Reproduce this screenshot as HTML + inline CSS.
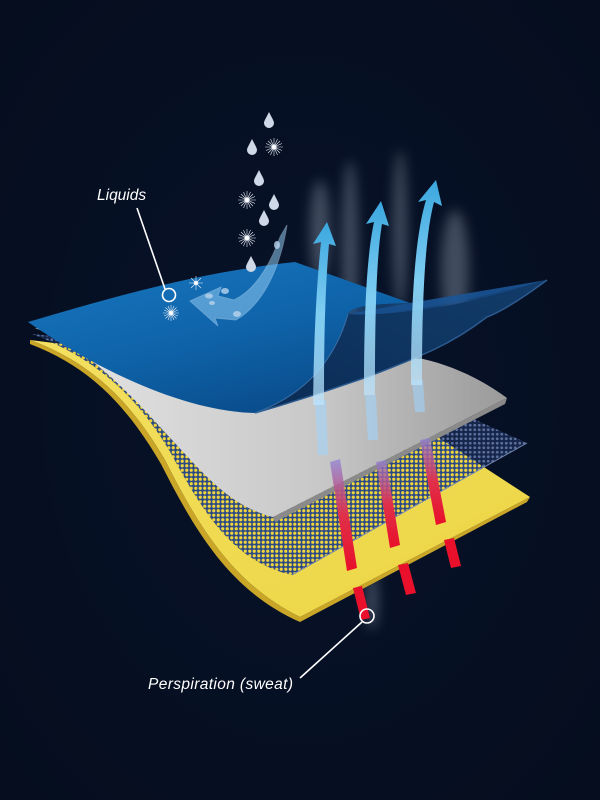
<!DOCTYPE html>
<html><head><meta charset="utf-8"><style>
html,body{margin:0;padding:0;background:#050e20;}
svg{display:block}
</style></head><body>
<svg width="600" height="800" viewBox="0 0 600 800" xmlns="http://www.w3.org/2000/svg">
<defs>
<radialGradient id="bg" cx="0.5" cy="0.5" r="0.7"><stop offset="0" stop-color="#08132a"/><stop offset="1" stop-color="#050d1e"/></radialGradient>
<linearGradient id="yel" x1="0" y1="0" x2="1" y2="1"><stop offset="0" stop-color="#f4e060"/><stop offset="1" stop-color="#ecd544"/></linearGradient>
<linearGradient id="gray" x1="0" y1="0" x2="1" y2="0"><stop offset="0" stop-color="#e6e6e6"/><stop offset="0.6" stop-color="#c8c8c8"/><stop offset="1" stop-color="#9a9a9a"/></linearGradient>
<linearGradient id="blue" x1="0" y1="0" x2="0.6" y2="1"><stop offset="0" stop-color="#1a78c0"/><stop offset="0.6" stop-color="#0e62a8"/><stop offset="1" stop-color="#0a4d8c"/></linearGradient>
<linearGradient id="curl" x1="0" y1="1" x2="1" y2="0"><stop offset="0" stop-color="#0a2c55"/><stop offset="1" stop-color="#133c6a"/></linearGradient>
<linearGradient id="arr" x1="0" y1="1" x2="0" y2="0"><stop offset="0" stop-color="#bfe6ff" stop-opacity="0.7"/><stop offset="0.5" stop-color="#7fcdf2"/><stop offset="1" stop-color="#3ba7df"/></linearGradient>
<linearGradient id="red" x1="0" y1="0" x2="0" y2="1"><stop offset="0" stop-color="#8c7fd8" stop-opacity="0.7"/><stop offset="0.5" stop-color="#e0304a"/><stop offset="1" stop-color="#e8102a"/></linearGradient>
<pattern id="dotY" width="4.5" height="4.5" patternUnits="userSpaceOnUse"><rect width="4.5" height="4.5" fill="#2c4a86"/><circle cx="2.25" cy="2.25" r="1.6" fill="#efd43c"/></pattern>
<pattern id="dotB" width="4.5" height="4.5" patternUnits="userSpaceOnUse"><rect width="4.5" height="4.5" fill="#16264a"/><circle cx="2.25" cy="2.25" r="1.4" fill="#5a6f9c"/></pattern>
<clipPath id="yclip"><path d="M30,340 C90,362 130,400 165,460 C200,530 235,585 300,617 L530,497 L350,380 Z"/></clipPath>
<filter id="blur" x="-50%" y="-50%" width="200%" height="200%"><feGaussianBlur stdDeviation="6"/></filter>
</defs>
<rect width="600" height="800" fill="url(#bg)"/>

<g filter="url(#blur)" fill="#c8d4e4" opacity="0.3">
<ellipse cx="350" cy="250" rx="8" ry="90"/>
<ellipse cx="400" cy="230" rx="7" ry="80"/>
<ellipse cx="455" cy="270" rx="14" ry="60"/>
<ellipse cx="320" cy="230" rx="10" ry="50"/>
<ellipse cx="372" cy="600" rx="6" ry="30"/>
</g>

<path d="M30,340 C90,362 130,400 165,460 C200,530 235,585 300,617 L530,497 L350,380 Z" fill="url(#yel)"/>
<path d="M30,340 C90,362 130,400 165,460 C200,530 235,585 300,617 L530,497 L527,502 L300,622 C232,592 197,535 161,464 C126,404 88,366 30,344 Z" fill="#c9a628"/>

<path d="M32,334 C95,358 137,395 172,455 C207,520 237,562 292,575 L527,443 L360,368 Z" fill="url(#dotB)"/>
<path d="M32,334 C95,358 137,395 172,455 C207,520 237,562 292,575 L527,443 L360,368 Z" fill="url(#dotY)" clip-path="url(#yclip)"/>
<path d="M292,575 L527,443" stroke="#7388b2" stroke-width="1"/>

<path d="M35,328 C100,352 150,418 200,470 C225,495 245,510 273,517 L507,398 C480,378 450,365 423,359 Z" fill="url(#gray)"/>
<path d="M273,517 L507,398 L505,404 L275,522 Z" fill="#8a8a8a"/>

<g opacity="0.55" fill="#9fd6ff">
<path d="M315,400 L326,400 L328,455 L318,455 Z"/>
<path d="M365,395 L376,395 L378,440 L368,440 Z"/>
<path d="M412,380 L423,380 L425,412 L415,412 Z"/>
</g>

<g>
<path d="M330,462 L340,459 L357,568 L347,571 Z" fill="url(#red)"/>
<path d="M353,588 L362,586 L370,618 L361,620 Z" fill="#e8102a"/>
<path d="M376,462 L386,460 L400,545 L390,548 Z" fill="url(#red)"/>
<path d="M398,565 L408,563 L416,593 L406,595 Z" fill="#e8102a"/>
<path d="M420,440 L430,438 L446,522 L436,525 Z" fill="url(#red)"/>
<path d="M444,540 L454,538 L461,566 L451,568 Z" fill="#e8102a"/>
</g>

<path d="M28,322 C120,295 200,272 295,262 L410,303 C380,304 352,305 348,314 C332,368 300,398 255,413 C200,412 120,385 28,322 Z" fill="url(#blue)"/>
<path d="M295,262 L410,303 L547,280 C470,300 390,318 348,314 C352,305 380,304 410,303 Z" fill="#1d5fa0" opacity="0.55"/>
<path d="M410,303 L547,280 C480,302 400,318 348,314 Z" fill="#1a5496" opacity="0.75"/>
<path d="M348,314 C400,318 480,302 547,280 C520,300 500,312 487,317 C470,330 450,342 433,350 C400,365 380,372 367,377 C330,390 300,400 255,413 C305,395 335,360 348,314 Z" fill="url(#curl)"/>
<path d="M547,280 C520,300 500,312 487,317 C470,330 450,342 433,350 C400,365 380,372 367,377 C330,390 300,400 255,413" stroke="#2b5a8e" stroke-width="1.5" fill="none"/>
<path d="M348,314 C335,360 305,395 255,413" stroke="#3a6ea6" stroke-width="1" fill="none"/>

<g fill="url(#arr)">
<path d="M313,405 C314,340 316,290 321,242 L313,244 L327,222 L336,246 L329,244 C325,290 324,340 324,405 Z"/>
<path d="M364,395 C364,320 366,260 374,222 L366,224 L381,201 L389,226 L382,224 C376,260 375,320 375,395 Z"/>
<path d="M411,385 C411,310 414,240 426,200 L418,202 L436,180 L442,206 L434,202 C424,240 422,310 422,385 Z"/>
</g>

<path d="M287,225 C280,270 262,305 236,320 L215,318 L218,326 L190,301 L221,287 L218,296 L234,300 C255,290 270,265 280,237 Z" fill="#8cc8f0" opacity="0.55" stroke="#cfeaff" stroke-width="1" stroke-opacity="0.7"/>

<g fill="#cfd8e6">
<path d="M269,112 C266,118 264,121 264,123 a5,5 0 0 0 10,0 C274,121 272,118 269,112Z"/>
<path d="M252,139 C249,145 247,148 247,150 a5,5 0 0 0 10,0 C257,148 255,145 252,139Z"/>
<path d="M259,170 C256,176 254,179 254,181 a5,5 0 0 0 10,0 C264,179 262,176 259,170Z"/>
<path d="M274,194 C271,200 269,203 269,205 a5,5 0 0 0 10,0 C279,203 277,200 274,194Z"/>
<path d="M264,210 C261,216 259,219 259,221 a5,5 0 0 0 10,0 C269,219 267,216 264,210Z"/>
<path d="M251,256 C248,262 246,265 246,267 a5,5 0 0 0 10,0 C256,265 254,262 251,256Z"/>
</g>

<g stroke="#e8eef8" fill="#fff">
<g transform="translate(274,147)"><path d="M-9,0H9M0,-9V9M-6,-6L6,6M-6,6L6,-6M-3.5,-8L3.5,8M-8,-3.5L8,3.5M3.5,-8L-3.5,8M8,-3.5L-8,3.5" stroke-width="0.6"/><circle r="2.2"/></g>
<g transform="translate(247,200)"><path d="M-9,0H9M0,-9V9M-6,-6L6,6M-6,6L6,-6M-3.5,-8L3.5,8M-8,-3.5L8,3.5M3.5,-8L-3.5,8M8,-3.5L-8,3.5" stroke-width="0.6"/><circle r="2.2"/></g>
<g transform="translate(247,238)"><path d="M-9,0H9M0,-9V9M-6,-6L6,6M-6,6L6,-6M-3.5,-8L3.5,8M-8,-3.5L8,3.5M3.5,-8L-3.5,8M8,-3.5L-8,3.5" stroke-width="0.6"/><circle r="2.2"/></g>
<g transform="translate(196,283)"><path d="M-7,0H7M0,-7V7M-5,-5L5,5M-5,5L5,-5" stroke-width="0.6"/><circle r="1.8"/></g>
<g transform="translate(171,313)"><path d="M-8,0H8M0,-8V8M-5.5,-5.5L5.5,5.5M-5.5,5.5L5.5,-5.5M-3,-7L3,7M-7,-3L7,3M3,-7L-3,7M7,-3L-7,3" stroke-width="0.6"/><circle r="2"/></g>
</g>
<g fill="#b8d4ec" opacity="0.8">
<ellipse cx="209" cy="296" rx="4" ry="2.5"/><ellipse cx="212" cy="303" rx="3" ry="2"/><ellipse cx="225" cy="291" rx="4" ry="3"/><ellipse cx="237" cy="314" rx="4" ry="3"/><ellipse cx="277" cy="245" rx="3" ry="4"/>
</g>

<g stroke="#ffffff" stroke-width="1.6" fill="none">
<line x1="137" y1="208" x2="165" y2="289"/>
<circle cx="169" cy="295" r="6.5"/>
<line x1="300" y1="678" x2="362" y2="622"/>
<circle cx="367" cy="616" r="7"/>
</g>
<g font-family="Liberation Sans, sans-serif" font-style="italic" fill="#ffffff" font-size="15.5">
<text x="97" y="200">Liquids</text>
<text x="148" y="689" textLength="145">Perspiration (sweat)</text>
</g>
</svg>
</body></html>
